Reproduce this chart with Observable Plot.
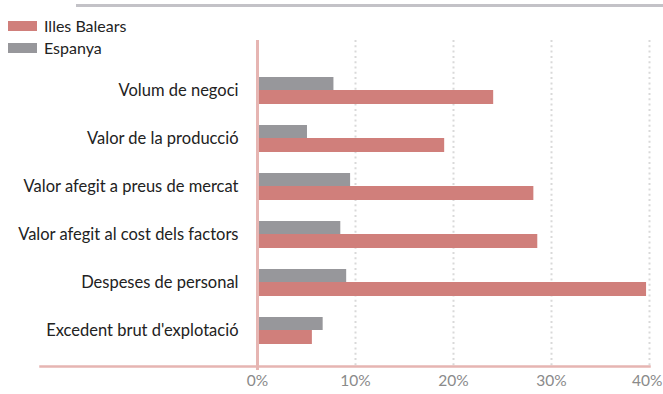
<!DOCTYPE html>
<html>
<head>
<meta charset="utf-8">
<script src="https://cdn.jsdelivr.net/npm/d3@7"></script>
<script src="https://cdn.jsdelivr.net/npm/@observablehq/plot@0.6"></script>
<style>
  html, body { margin: 0; padding: 0; background: #fff; }
  #wrap { position: relative; width: 663px; height: 394px; font-family: Lato, "Open Sans", sans-serif; }
  #topline { position: absolute; left: 76px; top: 4px; width: 587px; height: 2.5px; background: #c3c2c7; }
  .leg { position: absolute; left: 8px; display: flex; align-items: center; font-size: 16px; color: #222; }
  .sw { width: 29px; height: 10px; margin-right: 7px; }
</style>
</head>
<body>
<div id="wrap">
  <div id="chart"></div>
  <div id="topline"></div>
  <div class="leg" style="top:16px"><div class="sw" style="background:#d07f7b"></div><span>Illes Balears</span></div>
  <div class="leg" style="top:38px"><div class="sw" style="background:#97979b"></div><span>Espanya</span></div>
</div>
<script>
const categories = [
  "Volum de negoci",
  "Valor de la producció",
  "Valor afegit a preus de mercat",
  "Valor afegit al cost dels factors",
  "Despeses de personal",
  "Excedent brut d'explotació"
];
const illesBalears = [24.1, 19.1, 28.2, 28.6, 39.7, 5.6];
const espanya = [7.8, 5.1, 9.5, 8.5, 9.1, 6.7];
const xTicks = [0, 10, 20, 30, 40];
const gridTicks = [10, 20, 30, 40];

const rows = categories.map((c, i) => ({cat: c, illes: illesBalears[i], esp: espanya[i]}));
const fmt = d => d + "%";
const lastTick = xTicks[xTicks.length - 1];

const chart = Plot.plot({
  width: 663,
  height: 394,
  marginLeft: 257,
  marginRight: 14,
  marginTop: 40,
  marginBottom: 28,
  x: {domain: [0, 40], ticks: xTicks, tickFormat: fmt},
  y: {domain: categories, range: [66, 354], padding: 0},
  style: {fontFamily: "Lato, 'Open Sans', sans-serif", fontSize: "16px", background: "transparent", overflow: "visible"},
  marks: [
    Plot.ruleX(gridTicks, {stroke: "#d9d9d9", strokeWidth: 2, strokeDasharray: "2,3.3"}),
    Plot.barX(rows, {x: "esp", y: "cat", fill: "#97979b", insetTop: 11, insetBottom: 24}),
    Plot.barX(rows, {x: "illes", y: "cat", fill: "#d07f7b", insetTop: 24, insetBottom: 10}),
    Plot.frame({anchor: "bottom", stroke: "#e6b5b2", strokeWidth: 2.5, insetLeft: -217}),
    Plot.ruleX([0], {stroke: "#e6b5b2", strokeWidth: 3, insetBottom: -4}),
    Plot.axisX({ticks: xTicks.slice(0, -1), tickFormat: fmt, tickSize: 0, tickPadding: 8, fill: "#8a8a8a", label: null, fontSize: 15.5}),
    Plot.axisX({ticks: [lastTick], tickFormat: fmt, tickSize: 0, tickPadding: 8, fill: "#8a8a8a", label: null, fontSize: 15.5, textAnchor: "end", dx: 13}),
    Plot.axisY({tickSize: 0, tickPadding: 19, fill: "#222", label: null, fontSize: 16.5})
  ]
});
document.getElementById("chart").appendChild(chart);
</script>
</body>
</html>
